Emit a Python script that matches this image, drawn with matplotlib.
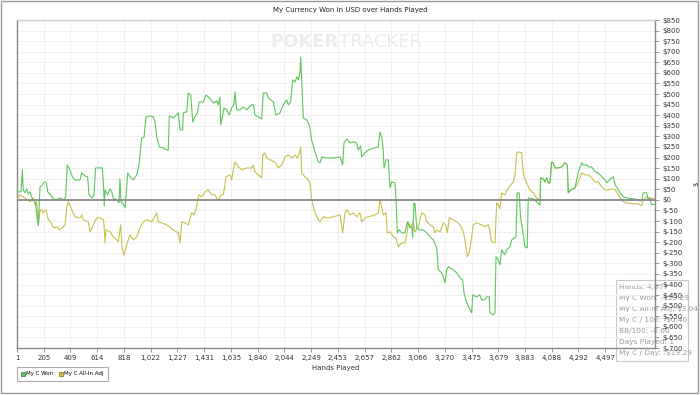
import numpy as np
import matplotlib
matplotlib.use('Agg')
import matplotlib.pyplot as plt
from matplotlib.lines import Line2D
from matplotlib.patches import Rectangle

# ---------------------------------------------------------------- data
title = 'My Currency Won in USD over Hands Played'
x_label = 'Hands Played'
series_names = ['My C Won', 'My C All-In Adj']

x_ticks = [1, 205, 409, 614, 818, 1022, 1227, 1431, 1635, 1840, 2044, 2249,
           2453, 2657, 2862, 3066, 3270, 3475, 3679, 3883, 4088, 4292, 4497]

won_hands = [1, 32, 42, 49, 62, 75, 87, 100, 113, 123, 142, 154, 164, 177, 188,
             210, 226, 236, 253, 278, 304, 330, 355, 373, 385, 406, 424, 444,
             482, 496, 521, 541, 551, 576, 589, 602, 653, 661, 668, 674, 694,
             712, 725, 737, 763, 781, 788, 796, 813, 826, 834, 847, 865, 890,
             916, 933, 954, 972, 987, 1017, 1043, 1056, 1069, 1089, 1117, 1145,
             1157, 1165, 1196, 1234, 1247, 1267, 1272, 1298, 1310, 1329, 1344,
             1361, 1379, 1394, 1425, 1445, 1471, 1501, 1527, 1539, 1552, 1558,
             1583, 1604, 1623, 1642, 1659, 1667, 1680, 1705, 1731, 1757, 1776,
             1795, 1807, 1820, 1845, 1871, 1883, 1909, 1922, 1960, 1980, 2011,
             2036, 2062, 2075, 2093, 2108, 2126, 2139, 2151, 2164, 2169, 2177,
             2189, 2215, 2235, 2253, 2278, 2304, 2317, 2330, 2368, 2418, 2470,
             2490, 2500, 2521, 2546, 2571, 2597, 2609, 2628, 2635, 2661, 2686,
             2737, 2762, 2775, 2788, 2800, 2806, 2821, 2839, 2852, 2865, 2890,
             2898, 2908, 2923, 2941, 2966, 2984, 3005, 3018, 3025, 3035, 3043,
             3056, 3081, 3106, 3132, 3158, 3183, 3209, 3221, 3247, 3259, 3272,
             3285, 3297, 3335, 3361, 3387, 3407, 3417, 3438, 3463, 3476, 3484,
             3514, 3539, 3552, 3577, 3590, 3610, 3615, 3641, 3654, 3662, 3679,
             3692, 3705, 3730, 3743, 3769, 3782, 3814, 3824, 3839, 3850, 3865,
             3883, 3901, 3908, 3947, 3972, 3998, 4003, 4023, 4036, 4049, 4061,
             4074, 4087, 4099, 4112, 4138, 4164, 4189, 4207, 4214, 4233, 4266,
             4291, 4317, 4329, 4355, 4368, 4393, 4419, 4444, 4470, 4496, 4508,
             4534, 4559, 4572, 4584, 4610, 4635, 4661, 4711, 4749, 4775, 4787,
             4813, 4825, 4838, 4851, 4877]
won_usd = [38, 38, 142, 47, 33, 52, 28, 38, 14, 0, -14, -80, -123, 61, 66, 85,
           80, 38, 28, 5, 0, 9, 0, 14, 165, 142, 109, 94, 94, 127, 113, 109, 24,
           9, 24, 151, 151, 80, -28, 47, 24, 52, 38, 9, 0, -14, 99, -9, -19,
           -38, 14, 128, 109, 94, 118, 165, 293, 297, 392, 397, 392, 368, 297,
           250, 246, 236, 236, 397, 387, 411, 331, 331, 411, 416, 505, 496, 368,
           392, 411, 463, 463, 496, 482, 458, 468, 449, 486, 354, 434, 425, 401,
           434, 449, 510, 425, 425, 439, 425, 439, 449, 449, 401, 392, 382, 505,
           505, 482, 463, 401, 411, 449, 472, 449, 463, 567, 557, 581, 567, 604,
           675, 567, 387, 378, 354, 283, 227, 179, 175, 203, 198, 198, 203, 165,
           269, 288, 269, 274, 269, 236, 255, 203, 222, 236, 246, 250, 321, 297,
           236, 151, 189, 189, 57, 85, 80, 0, -156, -141, -156, -156, -104,
           -132, -127, -179, -14, -19, -132, -142, -142, -156, -175, -189, -227,
           -330, -345, -364, -392, -330, -316, -330, -345, -368, -378, -439,
           -486, -519, -534, -449, -458, -449, -472, -472, -458, -458, -534,
           -543, -534, -269, -283, -307, -236, -260, -236, -222, -189, -175, 33,
           33, -85, -142, -222, -227, 9, 5, -9, -24, 104, 99, 85, 104, 80, 80,
           179, 175, 151, 151, 156, 175, 165, 33, 47, 57, 132, 175, 165, 165,
           156, 156, 132, 127, 109, 94, 80, 99, 109, 71, 61, 33, 14, 9, 5, 0,
           -5, 33, 33, 0, 9, -24, -19]

adj_hands = [1, 24, 62, 100, 126, 139, 152, 164, 177, 190, 202, 223, 240, 259,
             274, 291, 309, 324, 343, 368, 381, 393, 411, 427, 444, 482, 496,
             508, 546, 559, 584, 610, 635, 661, 666, 674, 681, 712, 737, 763,
             775, 794, 803, 819, 839, 865, 890, 916, 941, 966, 992, 1030, 1069,
             1081, 1107, 1145, 1196, 1234, 1247, 1260, 1285, 1310, 1336, 1354,
             1374, 1390, 1413, 1438, 1463, 1489, 1514, 1539, 1558, 1578, 1588,
             1598, 1629, 1642, 1654, 1667, 1692, 1718, 1757, 1795, 1807, 1820,
             1845, 1871, 1879, 1896, 1909, 1935, 1973, 1998, 2024, 2049, 2075,
             2101, 2126, 2143, 2159, 2169, 2177, 2202, 2227, 2240, 2253, 2278,
             2304, 2317, 2342, 2380, 2418, 2470, 2490, 2508, 2521, 2546, 2571,
             2597, 2622, 2635, 2661, 2686, 2737, 2762, 2775, 2788, 2800, 2821,
             2831, 2852, 2877, 2898, 2915, 2941, 2966, 2984, 2992, 3005, 3018,
             3030, 3043, 3068, 3094, 3119, 3132, 3158, 3183, 3196, 3209, 3234,
             3259, 3277, 3290, 3305, 3335, 3361, 3387, 3412, 3425, 3442, 3458,
             3476, 3488, 3514, 3552, 3577, 3602, 3615, 3628, 3654, 3667, 3679,
             3692, 3705, 3730, 3756, 3782, 3794, 3807, 3820, 3832, 3858, 3865,
             3875, 3896, 3921, 3947, 3972, 3998, 4003, 4023, 4036, 4049, 4061,
             4074, 4087, 4099, 4112, 4138, 4164, 4189, 4207, 4214, 4233, 4266,
             4291, 4317, 4342, 4368, 4393, 4419, 4444, 4470, 4496, 4521, 4546,
             4572, 4584, 4610, 4635, 4661, 4711, 4749, 4775, 4787, 4813, 4838,
             4863, 4877]
adj_usd = [0, 24, 9, -9, 9, -24, -9, -118, -47, -47, -61, -47, -94, -104, -127,
           -132, -127, -142, -132, -118, -33, -9, -33, -57, -80, -85, -71, -94,
           -104, -151, -118, -85, -85, -94, -118, -203, -142, -151, -175, -189,
           -198, -118, -222, -260, -212, -165, -189, -175, -132, -104, -94,
           -104, -61, -104, -109, -118, -142, -156, -203, -104, -109, -118, -61,
           -71, -33, 24, 14, 38, 47, 24, 24, -5, 24, 24, 61, 108, 118, 94, 142,
           179, 156, 142, 151, 151, 165, 132, 118, 104, 212, 222, 198, 189, 179,
           151, 165, 203, 212, 198, 212, 198, 222, 250, 127, 109, 94, 80, 0,
           -61, -94, -104, -80, -85, -80, -71, -156, -61, -47, -71, -61, -80,
           -61, -104, -85, -80, -71, -61, 0, -33, -71, -61, -156, -151, -175,
           -179, -222, -203, -203, -151, -104, -127, -118, -109, -151, -127,
           -61, -71, -104, -118, -127, -156, -142, -151, -109, -118, -156, -85,
           -94, -104, -118, -151, -189, -269, -246, -175, -118, -109, -118,
           -127, -118, -142, -198, -203, -14, -24, -42, 33, 24, 57, 76, 85, 118,
           222, 227, 222, 165, 109, 80, 47, 33, 9, 0, 104, 99, 85, 104, 80, 80,
           179, 175, 151, 151, 156, 175, 165, 33, 47, 57, 85, 127, 118, 118,
           104, 85, 85, 61, 47, 47, 52, 47, 38, 9, -9, -14, -19, -19, -28, 0,
           14, 9, 5, 5]

tooltip_lines = ['Hands: 4,877', 'My C Won: -$19.29', 'My C All-In Adj: $3.04',
                 'My C / 100: -$0.40', 'BB/100: -0.60', 'Days Played: 1',
                 'My C / Day: -$19.29']

# ---------------------------------------------------------------- figure
W, H = 700., 395.
fig = plt.figure(figsize=(7.0, 3.95), dpi=100)
fs = 5.0
green = '#5cc65c'
olive = '#c6c04c'

# plot area in pixels: x 17..655, y 20..348
ax = fig.add_axes([17/W, 1-348/H, (655-17)/W, (348-20)/H])
ax.set_facecolor('none')

ax.plot(won_hands, won_usd, color=green, lw=0.8, zorder=4)
ax.plot(adj_hands, adj_usd, color=olive, lw=0.8, zorder=3)
ax.axhline(0, color='#8a8a8a', lw=1.3, zorder=5)

ax.set_xlim(1, 4877)
ax.set_ylim(-700, 850)

# grid
ax.set_yticks(np.arange(-700, 851, 50))
ax.set_xticks(x_ticks)
ax.grid(True, color='#f0f0f0', lw=0.7, zorder=0)
ax.set_axisbelow(True)

ax.set_xticklabels(['{:,}'.format(t) for t in x_ticks])
ax.set_yticklabels(['$' + str(int(v)) for v in np.arange(-700, 851, 50)])
ax.yaxis.tick_right()
ax.yaxis.set_label_position('right')
ax.tick_params(axis='both', labelsize=fs, colors='#888888', labelcolor='#333333',
               length=3, width=0.6, pad=2)
ax.set_ylabel('$', fontsize=fs, rotation=90, labelpad=8, color='#333333')
ax.set_xlabel(x_label, fontsize=fs, color='#333333', labelpad=3)

for side in ['left', 'right', 'bottom']:
    ax.spines[side].set_color('#888888')
    ax.spines[side].set_linewidth(1.0)
ax.spines['top'].set_color('#cfcfcf')
ax.spines['top'].set_linewidth(1.0)

# title
fig.text(350/W, 1-10/H, title, ha='center', va='center', fontsize=fs, color='#222222')

# watermark
fig.text(270/W, 1-42/H, 'POKER', ha='left', va='center', fontsize=13,
         fontweight='bold', color='#ebebeb', zorder=-2)
fig.text(339/W, 1-42/H, 'TRACKER', ha='left', va='center', fontsize=13,
         color='#ebebeb', zorder=-2)

# tooltip box (underneath the axes contents)
fig.patches.append(Rectangle((616/W, 1-361/H), 72/W, 81/H, transform=fig.transFigure,
                             facecolor='white', edgecolor='#c8c8c8', lw=0.8,
                             zorder=-1))
for i, line in enumerate(tooltip_lines):
    fig.text(619/W, 1-(287 + 11*i)/H, line, ha='left', va='center', fontsize=5.3,
             color='#9a9a9a', zorder=-1)

# legend
handles = [Line2D([], [], ls='none', marker='s', markersize=3.5, markerfacecolor=green,
                  markeredgecolor='#2e7d2e', markeredgewidth=0.5),
           Line2D([], [], ls='none', marker='s', markersize=3.5, markerfacecolor=olive,
                  markeredgecolor='#7a7420', markeredgewidth=0.5)]
leg = fig.legend(handles, series_names, loc='upper left', ncol=2,
                 bbox_to_anchor=(17/W, 1-367/H), fontsize=4.0, frameon=True,
                 fancybox=False, edgecolor='#999999', handlelength=0.5,
                 handletextpad=0.4, columnspacing=1.0, borderpad=0.8,
                 borderaxespad=0)
leg.get_frame().set_linewidth(0.8)

# outer border
fig.patches.append(Rectangle((1/W, 2/H), 697/W, 392/H, transform=fig.transFigure,
                             facecolor='none', edgecolor='#999999', lw=1.0))

fig.savefig('out.png', dpi=100)
